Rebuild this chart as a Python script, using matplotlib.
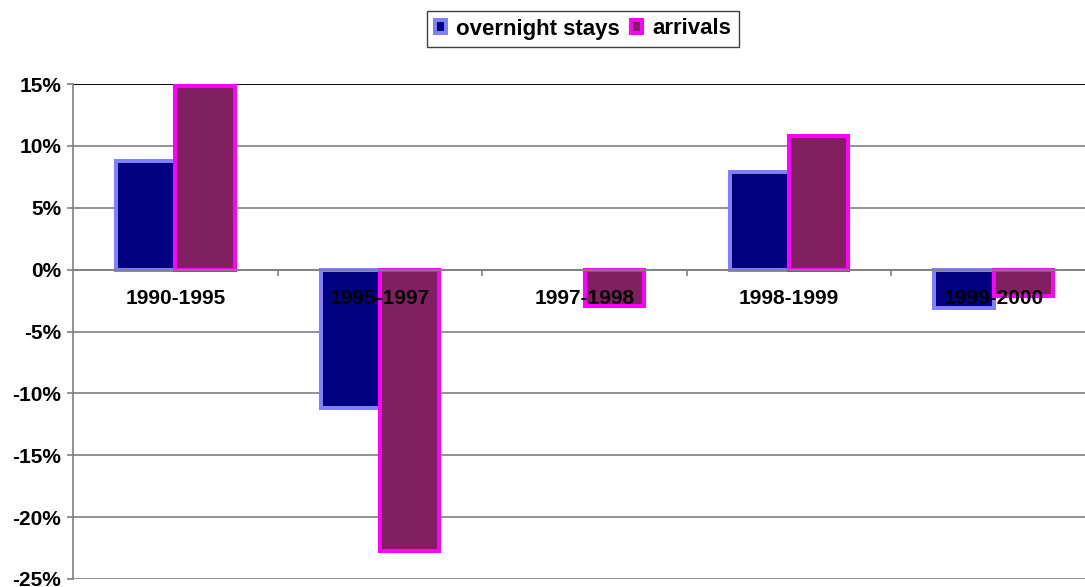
import matplotlib
matplotlib.use("Agg")
import matplotlib.pyplot as plt
from matplotlib.patches import Patch
from matplotlib.ticker import PercentFormatter, FixedLocator

plt.rcParams["font.family"] = ["Liberation Sans", "DejaVu Sans"]
plt.rcParams["font.weight"] = "bold"
plt.rcParams["axes.unicode_minus"] = False

categories = ["1990-1995", "1995-1997", "1997-1998", "1998-1999", "1999-2000"]
overnight_stays = [8.8, -11.2, 0.0, 7.9, -3.1]
arrivals = [14.8, -22.7, -2.9, 10.8, -2.1]
y_ticks = [-25, -20, -15, -10, -5, 0, 5, 10, 15]

GRAY = "#808080"
edge_w = 2.9
bar_w = 0.29


def edges(values):
    # a zero bar draws nothing in the original, not even its outline
    return [edge_w if v != 0 else 0 for v in values]


fig = plt.figure(figsize=(10.85, 5.87), dpi=100)
ax = fig.add_axes([73 / 1085, 8 / 587, 1023 / 1085, 495 / 587])

centers = [i + 0.5 for i in range(len(categories))]
ax.bar([c - bar_w / 2 for c in centers], overnight_stays, width=bar_w,
       color="#000080", edgecolor="#8080FF", linewidth=edges(overnight_stays), zorder=2)
ax.bar([c + bar_w / 2 for c in centers], arrivals, width=bar_w,
       color="#802060", edgecolor="#FF00FF", linewidth=edges(arrivals), zorder=2)

ax.set_xlim(0, len(categories))
ax.set_ylim(-25, 15)

# y axis and gridlines
ax.set_yticks(y_ticks)
ax.yaxis.set_major_formatter(PercentFormatter(decimals=0))
ax.yaxis.grid(True, color=GRAY, linewidth=1.2)
ax.yaxis.set_zorder(0.5)
ax.axhline(15, color="black", linewidth=1.3, zorder=0.6)
ax.tick_params(axis="y", direction="out", length=4, width=1.2, color=GRAY,
               pad=4.5, labelsize=15)

# x axis sits at zero, labels under the line, ticks at boundaries
ax.spines["bottom"].set_position(("data", 0))
ax.spines["bottom"].set_color(GRAY)
ax.spines["bottom"].set_linewidth(1.2)
ax.spines["left"].set_color(GRAY)
ax.spines["left"].set_linewidth(1.2)
ax.spines["top"].set_visible(False)
ax.spines["right"].set_visible(False)
ax.set_xticks(centers)
ax.set_xticklabels(categories)
ax.xaxis.set_minor_locator(FixedLocator(range(1, len(categories))))
ax.tick_params(axis="x", which="major", length=0, pad=14, labelsize=15)
ax.tick_params(axis="x", which="minor", direction="out", length=4, width=1.2,
               color=GRAY)
ax.xaxis.set_zorder(5)

handles = [
    Patch(facecolor="#000080", edgecolor="#8080FF", linewidth=edge_w, label="overnight stays"),
    Patch(facecolor="#802060", edgecolor="#FF00FF", linewidth=edge_w, label="arrivals"),
]
leg = fig.legend(handles=handles, loc="center", bbox_to_anchor=(583 / 1085, 1 - 29 / 587),
                 ncol=2, fontsize=16, frameon=True, fancybox=False, framealpha=1,
                 edgecolor="#404040", handlelength=0.5, handleheight=0.5,
                 handletextpad=0.45, columnspacing=0.5, borderpad=0.35,
                 borderaxespad=0)
leg.get_frame().set_linewidth(1.0)

fig.savefig("out.png", dpi=100)
